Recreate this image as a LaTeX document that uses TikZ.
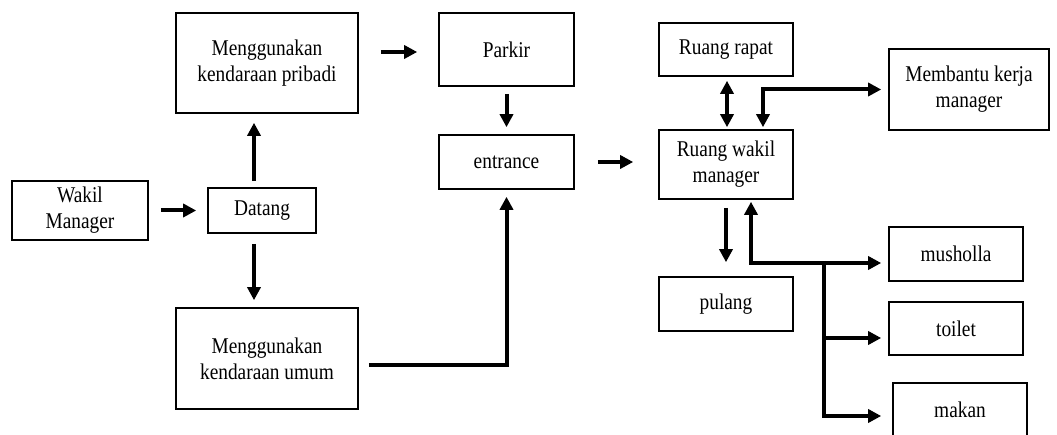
\documentclass[tikz,border=0pt]{standalone}
\usepackage{fontspec}
\setmainfont{Liberation Serif}[FakeStretch=0.86]
\usetikzlibrary{arrows.meta}

\begin{document}
\begin{tikzpicture}[x=1pt,y=-1pt,
  box/.style={draw, line width=1.6pt, align=center, inner sep=0pt,
    font=\fontsize{22.5}{26}\selectfont},
  tip/.tip={Triangle[length=13pt,width=13pt]},
  arr/.style={line width=4pt, line join=miter, -tip},
  arrb/.style={line width=4pt, line join=miter, tip-tip},
  ln/.style={line width=4pt, line join=miter}]
\useasboundingbox (0,0) rectangle (1057,435);

% left column: arrival
\node[box, minimum width=136pt, minimum height=59pt] (wakil) at (80,210.5) {Wakil\\Manager};
\node[box, minimum width=108pt, minimum height=45pt] (datang) at (262,210.5) {Datang};
\node[box, minimum width=182pt, minimum height=100pt] (pribadi) at (267,63) {Menggunakan\\kendaraan pribadi};
\node[box, minimum width=182pt, minimum height=101pt] (umum) at (267,358.5) {Menggunakan\\kendaraan umum};

% middle column
\node[box, minimum width=135pt, minimum height=73pt] (parkir) at (506.5,49.5) {Parkir};
\node[box, minimum width=135pt, minimum height=54pt] (entrance) at (506.5,162) {entrance};

% right part: office and facilities
\node[box, minimum width=134pt, minimum height=53pt] (rapat) at (726,49.5) {Ruang rapat};
\node[box, minimum width=134pt, minimum height=69pt] (rwakil) at (726,164.5) {Ruang wakil\\manager};
\node[box, minimum width=160pt, minimum height=81pt] (membantu) at (969,89.5) {Membantu kerja\\manager};
\node[box, minimum width=134pt, minimum height=54pt] (pulang) at (726,304) {pulang};
\node[box, minimum width=134pt, minimum height=54pt] (musholla) at (956,254) {musholla};
\node[box, minimum width=134pt, minimum height=53pt] (toilet) at (956,328.5) {toilet};
\node[box, minimum width=134pt, minimum height=54pt] (makan) at (960,410) {makan};

% connectors
\draw[arr, shorten <=12pt, shorten >=11pt] (wakil.east) -- (wakil.east -| datang.west);
\draw[arr, shorten <=6pt, shorten >=9pt] ([xshift=-8pt]datang.north) -- ([xshift=-8pt]datang.north |- pribadi.south);
\draw[arr, shorten <=10pt, shorten >=7pt] ([xshift=-8pt]datang.south) -- ([xshift=-8pt]datang.south |- umum.north);
\draw[arr, shorten <=22pt, shorten >=21pt] ([yshift=11pt]pribadi.east) -- ([yshift=11pt]pribadi.east -| parkir.west);
\draw[arr, shorten <=7pt, shorten >=7pt] (parkir.south) -- (entrance.north);
\draw[arr, shorten <=10pt, shorten >=7pt] ([yshift=-6.5pt]umum.east) -| (entrance.south);
\draw[arr, shorten <=23pt, shorten >=25pt] (entrance.east) -- (entrance.east -| rwakil.west);
\draw[arrb, shorten <=4pt, shorten >=2pt] ([xshift=1pt]rapat.south) -- ([xshift=1pt]rwakil.north);
\draw[arrb, shorten <=2pt, shorten >=7pt] ([xshift=37pt]rwakil.north) |- (membantu.west);
\draw[arr, shorten <=8pt, shorten >=14pt] (rwakil.south) -- (pulang.north);
\draw[arrb, shorten <=2pt, shorten >=7pt] ([xshift=25pt]rwakil.south) |- ([yshift=-9pt]musholla.west);
\coordinate (fork) at (824,263);
\draw[arr, shorten >=7pt] (fork) |- ([yshift=-9.5pt]toilet.west);
\draw[arr, shorten >=11pt] ([yshift=2pt]fork) |- ([yshift=-6pt]makan.west);
\end{tikzpicture}
\end{document}
